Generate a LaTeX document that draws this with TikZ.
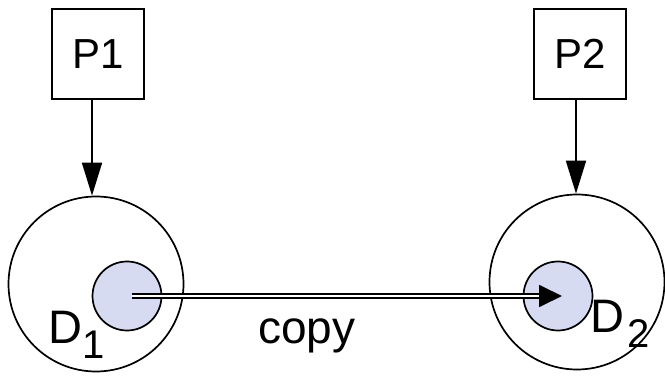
\documentclass[tikz,border=0pt]{standalone}
\usepackage{fontspec}
\setmainfont{Liberation Sans}
\usetikzlibrary{positioning,calc,arrows,arrows.meta}
\definecolor{dataBlue}{RGB}{214,219,242}
\tikzset{font=\fontsize{42}{42}\selectfont}

\begin{document}
\begin{tikzpicture}[x=1pt, y=-1pt]
	\useasboundingbox (0, 0) rectangle (665, 377);
	\begin{scope}
		\tikzstyle{every node}=[align=center, inner sep=0pt]
		\tikzstyle{procbox}=[draw, line width=1.5pt, minimum width=92pt, minimum height=90pt]
		\tikzstyle{site}=[draw, circle, line width=1.7pt, minimum size=175pt]
		\tikzstyle{datum}=[draw, circle, line width=1.7pt, fill=dataBlue, minimum size=69pt]
		\node[procbox] (p1) at (98, 54) {P1};
		\node[procbox] (p2) at (580, 54) {P2};
		\node[site] (s1) at (96, 284) {};
		\node[site] (s2) at (577, 282) {};
		\node[datum] (d1) at (127, 296) {};
		\node[datum] (d2) at (558, 296) {};
		\node[anchor=base west, font=\fontsize{47}{47}\selectfont] (l1) at (48, 343) {D\raisebox{-15pt}{\fontsize{40}{40}\selectfont 1}};
		\node[anchor=base west, font=\fontsize{47}{47}\selectfont] (l2) at (590, 333) {D\kern3pt\raisebox{-15pt}{\fontsize{40}{40}\selectfont 2}};
		\node[anchor=base west, font=\fontsize{46}{46}\selectfont] (cp) at (258, 343) {copy};
		\coordinate (tip) at (562, 296);
		\coordinate (tipbase) at (539, 296);

		\draw[line width=1.8pt, -{Triangle[length=33pt, width=20pt]}] ([xshift=-6pt]p1.south) -- ([xshift=-6pt]p1.south |- s1.north);
		\draw[line width=1.8pt, -{Triangle[length=33pt, width=20pt]}] ([xshift=-4pt]p2.south) -- ([xshift=-4pt]p2.south |- s2.north);
		\draw[line width=1.8pt, double, double distance=2.5pt] ([xshift=5pt]d1.center) -- (tipbase);
		\draw[line width=1.8pt, -{Triangle[length=23pt, width=22pt]}] (tipbase) -- (tip);
	\end{scope}
\end{tikzpicture}
\end{document}
